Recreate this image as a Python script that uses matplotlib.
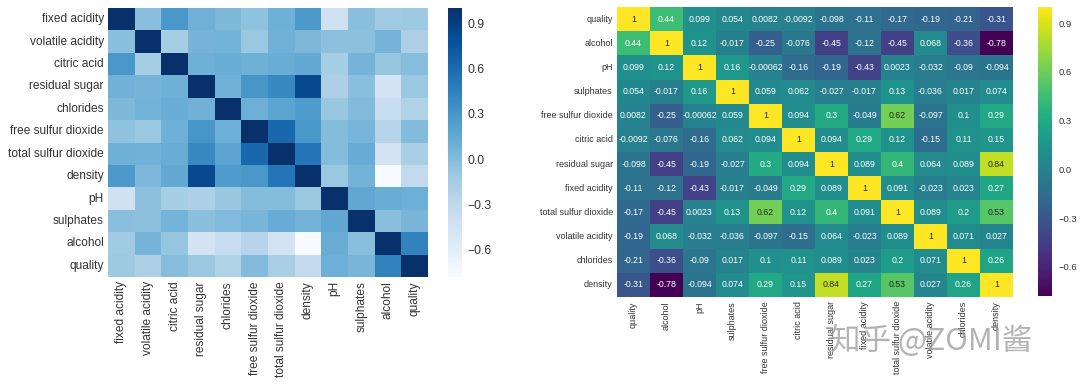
"""Matrices de correlacion del vino: original y ordenada por calidad"""
import numpy as np
import pandas as pd
import matplotlib
matplotlib.use("Agg")
import matplotlib.pyplot as plt
import seaborn as sns

sns.set_style("white")
plt.rcParams['font.family'] = ['Liberation Sans', 'Noto Sans CJK SC', 'DejaVu Sans']

# orden de la matriz derecha (ordenada por correlacion con quality)
orden_calidad = ['quality', 'alcohol', 'pH', 'sulphates', 'free sulfur dioxide',
                 'citric acid', 'residual sugar', 'fixed acidity',
                 'total sulfur dioxide', 'volatile acidity', 'chlorides', 'density']
# orden original de las columnas (matriz izquierda)
orden_original = ['fixed acidity', 'volatile acidity', 'citric acid', 'residual sugar',
                  'chlorides', 'free sulfur dioxide', 'total sulfur dioxide', 'density',
                  'pH', 'sulphates', 'alcohol', 'quality']

fila_quality = [1, 0.44, 0.099, 0.054, 0.0082, -0.0092, -0.098, -0.11, -0.17, -0.19, -0.21, -0.31]
fila_alcohol = [0.44, 1, 0.12, -0.017, -0.25, -0.076, -0.45, -0.12, -0.45, 0.068, -0.36, -0.78]
fila_ph = [0.099, 0.12, 1, 0.16, -0.00062, -0.16, -0.19, -0.43, 0.0023, -0.032, -0.09, -0.094]
fila_sulphates = [0.054, -0.017, 0.16, 1, 0.059, 0.062, -0.027, -0.017, 0.13, -0.036, 0.017, 0.074]
fila_free_so2 = [0.0082, -0.25, -0.00062, 0.059, 1, 0.094, 0.3, -0.049, 0.62, -0.097, 0.1, 0.29]
fila_citric = [-0.0092, -0.076, -0.16, 0.062, 0.094, 1, 0.094, 0.29, 0.12, -0.15, 0.11, 0.15]
fila_sugar = [-0.098, -0.45, -0.19, -0.027, 0.3, 0.094, 1, 0.089, 0.4, 0.064, 0.089, 0.84]
fila_fixed = [-0.11, -0.12, -0.43, -0.017, -0.049, 0.29, 0.089, 1, 0.091, -0.023, 0.023, 0.27]
fila_total_so2 = [-0.17, -0.45, 0.0023, 0.13, 0.62, 0.12, 0.4, 0.091, 1, 0.089, 0.2, 0.53]
fila_volatile = [-0.19, 0.068, -0.032, -0.036, -0.097, -0.15, 0.064, -0.023, 0.089, 1, 0.071, 0.027]
fila_chlorides = [-0.21, -0.36, -0.09, 0.017, 0.1, 0.11, 0.089, 0.023, 0.2, 0.071, 1, 0.26]
fila_density = [-0.31, -0.78, -0.094, 0.074, 0.29, 0.15, 0.84, 0.27, 0.53, 0.027, 0.26, 1]

filas = [fila_quality, fila_alcohol, fila_ph, fila_sulphates, fila_free_so2, fila_citric,
         fila_sugar, fila_fixed, fila_total_so2, fila_volatile, fila_chlorides, fila_density]
corr_calidad = pd.DataFrame(np.array(filas), index=orden_calidad, columns=orden_calidad)
corr_original = corr_calidad.loc[orden_original, orden_original]

W, H = 1080, 385
fig = plt.figure(figsize=(W / 100, H / 100), dpi=100)


def caja(x0, y0, x1, y1):
    """Convierte pixeles a coordenadas de figura"""
    return [x0 / W, 1 - y1 / H, (x1 - x0) / W, (y1 - y0) / H]


ax1 = fig.add_axes(caja(108, 8, 428, 277))
cax1 = fig.add_axes(caja(448, 8, 462, 277))
sns.heatmap(corr_original, cmap='Blues', ax=ax1, cbar_ax=cax1,
            cbar_kws={'ticks': [0.9, 0.6, 0.3, 0.0, -0.3, -0.6]})
ax1.tick_params(length=0, pad=3, labelsize=8.6, colors='#333333')
ax1.set_xticklabels(orden_original, rotation=90)
ax1.set_yticklabels(orden_original, rotation=0)
cax1.tick_params(length=0, labelsize=8.8, colors='#333333', pad=4)

ax2 = fig.add_axes(caja(617, 7, 1013, 297))
cax2 = fig.add_axes(caja(1038, 7, 1052, 296))
sns.heatmap(corr_calidad, cmap='viridis', annot=True, fmt='.2g', ax=ax2, cbar_ax=cax2,
            annot_kws={'size': 6.3}, cbar_kws={'ticks': [0.9, 0.6, 0.3, 0.0, -0.3, -0.6]})
ax2.tick_params(length=0, pad=3, labelsize=6.5, colors='#333333')
ax2.set_xticklabels(orden_calidad, rotation=90)
ax2.set_yticklabels(orden_calidad, rotation=0)
cax2.tick_params(length=0, labelsize=6.8, colors='#333333', pad=5)

# marca de agua
fig.text(830 / W, 1 - 341 / H, '知乎 @ZOMI酱', fontsize=22, color='#9a9a9a', alpha=0.75,
         va='center', ha='left', family=['Noto Sans CJK SC', 'DejaVu Sans'])

fig.savefig('out.png', dpi=100)
